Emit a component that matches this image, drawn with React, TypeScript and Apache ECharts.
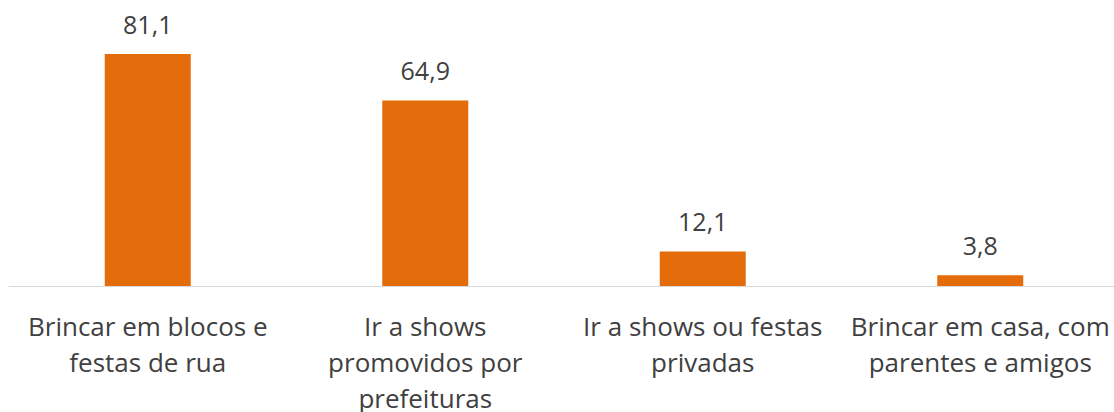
import React, { useEffect, useRef } from "react";
import * as echarts from "echarts";

const categories = [
  "Brincar em blocos e\nfestas de rua",
  "Ir a shows\npromovidos por\nprefeituras",
  "Ir a shows ou festas\nprivadas",
  "Brincar em casa, com\nparentes e amigos",
];
const values = [81.1, 64.9, 12.1, 3.8];

export default function App() {
  const ref = useRef<HTMLDivElement>(null);
  useEffect(() => {
    if (!ref.current) return;
    const chart = echarts.init(ref.current, null, { renderer: "svg" });
    chart.setOption({
      animation: false,
      grid: {
        left: 9,
        top: 0,
        width: 1110,
        height: 286,
        containLabel: false,
        outerBoundsMode: "none",
      },
      xAxis: {
        type: "category",
        data: categories,
        axisLine: { lineStyle: { color: "#D9D9D9", width: 1 } },
        axisTick: { show: false },
        axisLabel: {
          interval: 0,
          margin: 22,
          fontFamily: "Open Sans",
          fontSize: 26,
          lineHeight: 36,
          color: "#404040",
        },
      },
      yAxis: {
        type: "value",
        min: 0,
        max: 100,
        show: false,
        splitLine: { show: false },
      },
      series: [
        {
          type: "bar",
          data: values,
          barWidth: 86,
          itemStyle: { color: "#E46C0A" },
          label: {
            show: true,
            position: "top",
            distance: 18,
            fontFamily: "Open Sans",
            fontSize: 25,
            color: "#404040",
            formatter: (p: any) => String(p.value).replace(".", ","),
          },
        },
      ],
    });
    return () => chart.dispose();
  }, []);
  return (
    <div
      ref={ref}
      style={{ position: "absolute", left: 0, top: 0, width: 1114, height: 412 }}
    />
  );
}
